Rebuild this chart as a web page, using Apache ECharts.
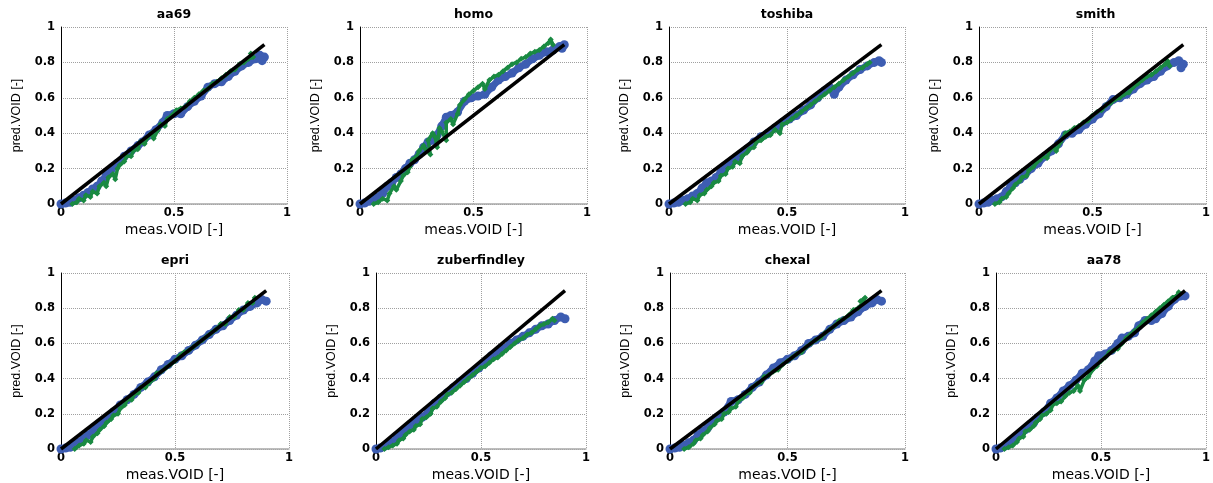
<!DOCTYPE html>
<html>
<head>
<meta charset="utf-8">
<title>pred.VOID vs meas.VOID</title>
<script src="https://cdn.jsdelivr.net/npm/echarts@6/dist/echarts.min.js"></script>
<style>
  html, body { margin: 0; padding: 0; background: #fff; }
  #main { width: 1213px; height: 483px; }
</style>
</head>
<body>
<div id="main"></div>
<script>
// panel names, in reading order
const panelTitles = ['aa69', 'homo', 'toshiba', 'smith', 'epri', 'zuberfindley', 'chexal', 'aa78']
const xTicks = [0, 0.5, 1]
const yTicks = [0, 0.2, 0.4, 0.6, 0.8, 1]
const refLine = [[0, 0], [0.9, 0.9]]

// values: [meas, pred]
const aa69Blue = [[0,0],[0.02,0.005],[0.04,0.01],[0.06,0.02],[0.08,0.035],[0.1,0.05],[0.12,0.065],[0.14,0.085],[0.16,0.1],[0.18,0.13],[0.2,0.16],[0.22,0.19],[0.25,0.23],[0.28,0.27],[0.31,0.3],[0.34,0.33],[0.36,0.35],[0.39,0.39],[0.42,0.42],[0.45,0.46],[0.47,0.5],[0.5,0.51],[0.53,0.51],[0.56,0.55],[0.59,0.58],[0.62,0.61],[0.65,0.66],[0.68,0.68],[0.71,0.69],[0.74,0.72],[0.77,0.75],[0.8,0.78],[0.83,0.8],[0.86,0.82],[0.88,0.84],[0.9,0.83],[0.89,0.81]]
const aa69Green = [[0.05,0],[0.07,0.01],[0.08,0.03],[0.1,0.02],[0.11,0.05],[0.13,0.04],[0.14,0.07],[0.16,0.06],[0.17,0.1],[0.19,0.12],[0.2,0.1],[0.21,0.15],[0.23,0.17],[0.24,0.14],[0.25,0.2],[0.26,0.22],[0.28,0.24],[0.29,0.27],[0.31,0.27],[0.32,0.3],[0.34,0.31],[0.35,0.35],[0.37,0.34],[0.38,0.37],[0.4,0.4],[0.41,0.37],[0.43,0.42],[0.44,0.45],[0.46,0.44],[0.47,0.48],[0.49,0.5],[0.51,0.53],[0.53,0.54],[0.55,0.55],[0.57,0.58],[0.59,0.6],[0.61,0.62],[0.63,0.64],[0.65,0.65],[0.67,0.68],[0.69,0.69],[0.71,0.71],[0.73,0.73],[0.75,0.75],[0.77,0.76],[0.79,0.79],[0.81,0.8],[0.83,0.82],[0.85,0.83],[0.84,0.85]]

const homoBlue = [[0,0],[0.02,0.005],[0.04,0.015],[0.06,0.03],[0.08,0.04],[0.1,0.06],[0.12,0.1],[0.14,0.12],[0.16,0.15],[0.18,0.17],[0.2,0.2],[0.22,0.23],[0.24,0.25],[0.26,0.28],[0.28,0.32],[0.3,0.35],[0.32,0.36],[0.34,0.39],[0.36,0.44],[0.38,0.49],[0.4,0.5],[0.43,0.52],[0.46,0.58],[0.49,0.6],[0.52,0.61],[0.55,0.62],[0.58,0.66],[0.61,0.7],[0.64,0.72],[0.67,0.74],[0.7,0.77],[0.73,0.79],[0.76,0.82],[0.79,0.84],[0.82,0.86],[0.85,0.87],[0.88,0.89],[0.9,0.9],[0.89,0.88]]
const homoGreen = [[0.06,0],[0.08,0.01],[0.1,0.03],[0.12,0.02],[0.13,0.06],[0.15,0.1],[0.16,0.08],[0.18,0.13],[0.19,0.16],[0.21,0.18],[0.22,0.21],[0.23,0.25],[0.25,0.27],[0.26,0.3],[0.28,0.33],[0.29,0.31],[0.31,0.28],[0.3,0.36],[0.32,0.4],[0.33,0.38],[0.34,0.32],[0.35,0.43],[0.36,0.41],[0.38,0.36],[0.38,0.46],[0.4,0.48],[0.41,0.45],[0.43,0.51],[0.44,0.56],[0.46,0.59],[0.48,0.62],[0.5,0.64],[0.52,0.66],[0.54,0.68],[0.55,0.65],[0.57,0.7],[0.59,0.72],[0.61,0.73],[0.63,0.75],[0.65,0.77],[0.67,0.79],[0.69,0.8],[0.71,0.82],[0.73,0.83],[0.75,0.85],[0.77,0.86],[0.79,0.87],[0.81,0.89],[0.83,0.91],[0.84,0.93],[0.85,0.9]]

const toshibaBlue = [[0,0],[0.02,0.005],[0.04,0.01],[0.06,0.02],[0.08,0.03],[0.1,0.045],[0.12,0.06],[0.14,0.09],[0.16,0.12],[0.18,0.13],[0.2,0.15],[0.22,0.18],[0.24,0.21],[0.27,0.24],[0.3,0.27],[0.33,0.31],[0.36,0.35],[0.39,0.38],[0.42,0.4],[0.45,0.43],[0.48,0.46],[0.51,0.48],[0.54,0.5],[0.57,0.53],[0.6,0.56],[0.63,0.6],[0.66,0.64],[0.68,0.66],[0.7,0.62],[0.72,0.66],[0.75,0.7],[0.78,0.73],[0.81,0.76],[0.84,0.78],[0.87,0.8],[0.89,0.81],[0.9,0.8]]
const toshibaGreen = [[0.07,0],[0.09,0.01],[0.1,0.03],[0.12,0.02],[0.13,0.05],[0.15,0.06],[0.16,0.08],[0.18,0.1],[0.19,0.12],[0.21,0.13],[0.22,0.16],[0.24,0.17],[0.25,0.2],[0.27,0.21],[0.28,0.24],[0.3,0.23],[0.31,0.27],[0.33,0.29],[0.34,0.31],[0.36,0.32],[0.37,0.35],[0.39,0.36],[0.41,0.38],[0.43,0.39],[0.45,0.42],[0.47,0.4],[0.48,0.45],[0.5,0.46],[0.52,0.48],[0.54,0.5],[0.56,0.52],[0.58,0.54],[0.6,0.56],[0.62,0.58],[0.64,0.6],[0.66,0.62],[0.68,0.64],[0.7,0.66],[0.72,0.68],[0.74,0.7],[0.76,0.72],[0.78,0.74],[0.8,0.76],[0.82,0.77],[0.84,0.79],[0.85,0.8]]

const smithBlue = [[0,0],[0.02,0.005],[0.04,0.01],[0.06,0.02],[0.08,0.03],[0.1,0.04],[0.12,0.07],[0.14,0.1],[0.16,0.12],[0.18,0.14],[0.2,0.16],[0.23,0.2],[0.26,0.23],[0.29,0.27],[0.32,0.3],[0.35,0.34],[0.38,0.39],[0.41,0.4],[0.44,0.42],[0.47,0.45],[0.5,0.48],[0.53,0.51],[0.56,0.55],[0.59,0.59],[0.62,0.6],[0.65,0.62],[0.68,0.65],[0.71,0.68],[0.74,0.7],[0.77,0.72],[0.8,0.75],[0.83,0.78],[0.86,0.8],[0.88,0.81],[0.9,0.79],[0.89,0.77]]
const smithGreen = [[0.07,0],[0.09,0.01],[0.1,0.03],[0.12,0.04],[0.13,0.06],[0.15,0.09],[0.16,0.11],[0.18,0.13],[0.19,0.15],[0.21,0.16],[0.22,0.19],[0.24,0.21],[0.25,0.23],[0.27,0.25],[0.28,0.27],[0.3,0.26],[0.31,0.3],[0.33,0.32],[0.34,0.3],[0.36,0.35],[0.38,0.4],[0.4,0.41],[0.42,0.43],[0.44,0.44],[0.46,0.46],[0.48,0.47],[0.5,0.5],[0.52,0.52],[0.54,0.53],[0.56,0.56],[0.58,0.57],[0.6,0.59],[0.62,0.6],[0.64,0.62],[0.66,0.63],[0.68,0.66],[0.7,0.68],[0.72,0.7],[0.74,0.72],[0.76,0.73],[0.78,0.75],[0.8,0.77],[0.82,0.79],[0.83,0.81],[0.84,0.78]]

const epriBlue = [[0,0],[0.02,0.005],[0.04,0.01],[0.06,0.025],[0.08,0.04],[0.1,0.06],[0.12,0.08],[0.14,0.1],[0.16,0.13],[0.18,0.15],[0.2,0.17],[0.23,0.21],[0.26,0.25],[0.29,0.28],[0.32,0.31],[0.35,0.35],[0.38,0.38],[0.41,0.41],[0.44,0.45],[0.47,0.48],[0.5,0.51],[0.53,0.53],[0.56,0.56],[0.59,0.59],[0.62,0.62],[0.65,0.65],[0.68,0.68],[0.71,0.7],[0.74,0.73],[0.77,0.76],[0.8,0.79],[0.83,0.81],[0.86,0.83],[0.88,0.85],[0.9,0.84]]
const epriGreen = [[0.06,0],[0.08,0.02],[0.1,0.03],[0.11,0.05],[0.13,0.04],[0.14,0.07],[0.16,0.09],[0.17,0.11],[0.19,0.13],[0.2,0.15],[0.22,0.17],[0.23,0.19],[0.25,0.2],[0.26,0.23],[0.28,0.25],[0.29,0.28],[0.31,0.28],[0.32,0.31],[0.34,0.32],[0.35,0.35],[0.37,0.35],[0.39,0.38],[0.41,0.4],[0.42,0.43],[0.44,0.44],[0.46,0.46],[0.48,0.48],[0.5,0.5],[0.52,0.53],[0.54,0.55],[0.56,0.56],[0.58,0.58],[0.6,0.6],[0.62,0.62],[0.64,0.64],[0.66,0.66],[0.68,0.68],[0.7,0.71],[0.72,0.71],[0.74,0.75],[0.76,0.75],[0.78,0.79],[0.8,0.79],[0.82,0.83],[0.84,0.83],[0.85,0.86]]

const zuberBlue = [[0,0],[0.02,0.005],[0.04,0.015],[0.06,0.03],[0.08,0.04],[0.1,0.06],[0.12,0.09],[0.14,0.11],[0.16,0.13],[0.18,0.15],[0.2,0.17],[0.22,0.18],[0.25,0.21],[0.28,0.26],[0.31,0.29],[0.34,0.32],[0.37,0.35],[0.4,0.38],[0.43,0.4],[0.46,0.43],[0.49,0.46],[0.52,0.49],[0.55,0.53],[0.58,0.55],[0.61,0.57],[0.64,0.6],[0.67,0.62],[0.7,0.64],[0.73,0.66],[0.76,0.68],[0.79,0.7],[0.82,0.71],[0.85,0.73],[0.88,0.75],[0.9,0.74]]
const zuberGreen = [[0.04,0],[0.06,0.01],[0.08,0.02],[0.1,0.03],[0.11,0.05],[0.13,0.06],[0.14,0.08],[0.16,0.1],[0.18,0.11],[0.19,0.13],[0.21,0.14],[0.22,0.17],[0.24,0.18],[0.26,0.2],[0.27,0.23],[0.29,0.24],[0.31,0.27],[0.33,0.29],[0.34,0.31],[0.36,0.32],[0.38,0.34],[0.4,0.36],[0.42,0.38],[0.44,0.4],[0.46,0.42],[0.48,0.44],[0.5,0.46],[0.52,0.47],[0.54,0.49],[0.56,0.51],[0.58,0.52],[0.6,0.54],[0.62,0.56],[0.64,0.58],[0.66,0.6],[0.68,0.62],[0.7,0.63],[0.72,0.65],[0.74,0.66],[0.76,0.68],[0.78,0.7],[0.8,0.71],[0.82,0.72],[0.84,0.74],[0.85,0.73]]

const chexalBlue = [[0,0],[0.02,0.005],[0.04,0.01],[0.06,0.02],[0.08,0.035],[0.1,0.05],[0.12,0.08],[0.14,0.1],[0.16,0.12],[0.18,0.15],[0.2,0.18],[0.23,0.21],[0.26,0.27],[0.29,0.28],[0.32,0.31],[0.35,0.35],[0.38,0.38],[0.41,0.42],[0.44,0.46],[0.47,0.49],[0.5,0.51],[0.53,0.53],[0.56,0.56],[0.59,0.6],[0.62,0.62],[0.65,0.64],[0.68,0.68],[0.71,0.71],[0.74,0.73],[0.77,0.75],[0.8,0.78],[0.83,0.81],[0.86,0.83],[0.88,0.85],[0.9,0.84]]
const chexalGreen = [[0.06,0],[0.08,0.01],[0.1,0.03],[0.11,0.05],[0.13,0.06],[0.14,0.08],[0.16,0.1],[0.17,0.12],[0.19,0.14],[0.2,0.16],[0.22,0.17],[0.23,0.2],[0.25,0.21],[0.26,0.23],[0.28,0.24],[0.29,0.27],[0.31,0.29],[0.32,0.31],[0.34,0.32],[0.35,0.35],[0.37,0.37],[0.39,0.38],[0.4,0.41],[0.42,0.42],[0.44,0.44],[0.46,0.45],[0.48,0.48],[0.5,0.5],[0.52,0.52],[0.54,0.54],[0.56,0.55],[0.58,0.58],[0.6,0.6],[0.62,0.62],[0.64,0.63],[0.66,0.66],[0.68,0.68],[0.7,0.7],[0.72,0.73],[0.74,0.74],[0.76,0.76],[0.78,0.79],[0.8,0.8],[0.82,0.83],[0.83,0.86],[0.81,0.84]]

const aa78Blue = [[0,0],[0.02,0.005],[0.04,0.015],[0.06,0.03],[0.08,0.045],[0.1,0.07],[0.12,0.09],[0.14,0.11],[0.16,0.13],[0.18,0.15],[0.2,0.18],[0.23,0.21],[0.26,0.26],[0.29,0.29],[0.32,0.33],[0.35,0.36],[0.38,0.39],[0.41,0.43],[0.44,0.45],[0.47,0.5],[0.49,0.53],[0.52,0.54],[0.55,0.56],[0.58,0.6],[0.6,0.63],[0.63,0.64],[0.66,0.66],[0.68,0.7],[0.71,0.73],[0.74,0.73],[0.76,0.74],[0.79,0.77],[0.82,0.81],[0.85,0.85],[0.88,0.87],[0.9,0.87]]
const aa78Green = [[0.04,0],[0.06,0.01],[0.08,0.02],[0.1,0.04],[0.11,0.06],[0.13,0.07],[0.14,0.1],[0.16,0.11],[0.18,0.13],[0.19,0.15],[0.21,0.17],[0.22,0.19],[0.24,0.2],[0.26,0.22],[0.27,0.25],[0.29,0.26],[0.31,0.27],[0.33,0.3],[0.35,0.32],[0.37,0.33],[0.39,0.36],[0.4,0.33],[0.42,0.39],[0.44,0.41],[0.46,0.45],[0.48,0.47],[0.5,0.5],[0.52,0.52],[0.54,0.55],[0.56,0.56],[0.58,0.57],[0.6,0.6],[0.62,0.63],[0.64,0.65],[0.66,0.67],[0.68,0.69],[0.7,0.72],[0.72,0.74],[0.74,0.76],[0.76,0.78],[0.78,0.8],[0.8,0.82],[0.82,0.84],[0.84,0.86],[0.86,0.87],[0.87,0.89]]

const blueSets = [aa69Blue, homoBlue, toshibaBlue, smithBlue, epriBlue, zuberBlue, chexalBlue, aa78Blue]
const greenSets = [aa69Green, homoGreen, toshibaGreen, smithGreen, epriGreen, zuberGreen, chexalGreen, aa78Green]

// plot boxes [left, top, width, height] in px
const boxes = [
  [61, 27, 226, 177], [360, 27, 227, 177], [669, 27, 236, 177], [979, 27, 233, 177],
  [61, 273, 228, 179], [376, 273, 210, 179], [670, 273, 235, 179], [996, 273, 216, 179]
]

const BLUE = '#3d5db2'
const GREEN = '#1a8a42'
const FONT = 'DejaVu Sans, sans-serif'

function tickLabel(margin) {
  return { margin: margin, color: '#000', fontWeight: 'bold', fontSize: 11.5, fontFamily: FONT }
}
function dotted() {
  return { show: true, lineStyle: { type: 'dotted', color: '#a0a0a0', width: 1 } }
}

const grid = [], xAxis = [], yAxis = [], title = [], series = []
boxes.forEach((b, i) => {
  grid.push({ left: b[0], top: b[1], width: b[2], height: b[3] })
  title.push({
    text: panelTitles[i],
    left: b[0] + b[2] / 2,
    top: b[1] - 19,
    textAlign: 'center',
    padding: 0,
    textStyle: { fontSize: 12.5, fontWeight: 'bold', color: '#000', fontFamily: FONT }
  })
  xAxis.push({
    gridIndex: i,
    type: 'value',
    min: xTicks[0],
    max: xTicks[xTicks.length - 1],
    interval: xTicks[1] - xTicks[0],
    name: 'meas.VOID [-]',
    nameLocation: 'middle',
    nameGap: 19,
    nameTextStyle: { color: '#000', fontSize: 14, fontFamily: FONT },
    axisLine: { show: true, onZero: false, lineStyle: { color: '#a8a8a8', width: 1.5 } },
    axisTick: { show: false },
    axisLabel: tickLabel(3),
    splitLine: dotted()
  })
  yAxis.push({
    gridIndex: i,
    type: 'value',
    min: yTicks[0],
    max: yTicks[yTicks.length - 1],
    interval: yTicks[1] - yTicks[0],
    name: 'pred.VOID [-]',
    nameLocation: 'middle',
    nameGap: 38,
    nameTextStyle: { color: '#000', fontSize: 12.5, fontFamily: "'Liberation Sans Narrow', 'Liberation Sans', sans-serif" },
    axisLine: { show: true, onZero: false, lineStyle: { color: '#000', width: 1 } },
    axisTick: { show: false },
    axisLabel: tickLabel(6),
    splitLine: dotted()
  })
  // blue band: thick trace plus round markers
  series.push({
    type: 'line', xAxisIndex: i, yAxisIndex: i, data: blueSets[i],
    symbol: 'circle', symbolSize: 9, showSymbol: true,
    itemStyle: { color: BLUE }, lineStyle: { color: BLUE, width: 7, cap: 'round', join: 'round' },
    z: 2
  })
  // green band: jagged trace plus small markers
  series.push({
    type: 'line', xAxisIndex: i, yAxisIndex: i, data: greenSets[i],
    symbol: 'diamond', symbolSize: 6, showSymbol: true,
    itemStyle: { color: GREEN }, lineStyle: { color: GREEN, width: 3.5, join: 'round' },
    z: 3
  })
  series.push({
    type: 'line', xAxisIndex: i, yAxisIndex: i, data: refLine,
    symbol: 'none', lineStyle: { color: '#000', width: 3.5 }, z: 4
  })
})

const chart = echarts.init(document.getElementById('main'))
chart.setOption({
  animation: false,
  backgroundColor: '#fff',
  title, grid, xAxis, yAxis, series
})
</script>
</body>
</html>
